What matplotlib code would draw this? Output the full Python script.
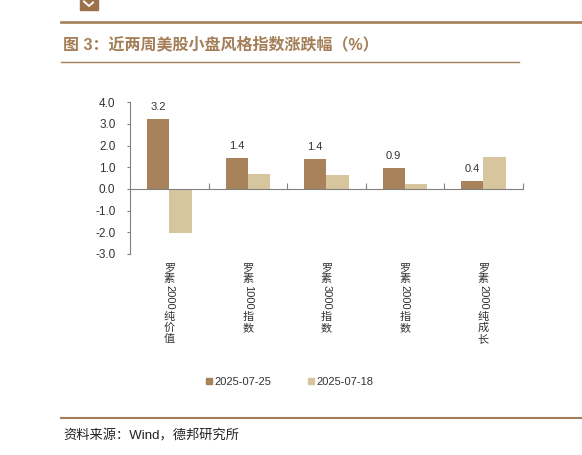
import matplotlib
matplotlib.use("Agg")
import matplotlib.pyplot as plt
from matplotlib.lines import Line2D
from matplotlib.patches import Rectangle, Patch
import numpy as np

plt.rcParams['font.family'] = ['Liberation Sans', 'Noto Sans CJK SC', 'DejaVu Sans']
plt.rcParams['axes.unicode_minus'] = False

categories = ["罗素2000纯价值", "罗素1000指数", "罗素3000指数", "罗素2000指数", "罗素2000纯成长"]
series_names = ["2025-07-25", "2025-07-18"]
values_0725 = [3.21, 1.41, 1.38, 0.95, 0.38]
values_0718 = [-2.01, 0.69, 0.65, 0.23, 1.47]
value_labels = ["3.2", "1.4", "1.4", "0.9", "0.4"]
yticks = [-3.0, -2.0, -1.0, 0.0, 1.0, 2.0, 3.0, 4.0]

C1 = "#A8825A"
C2 = "#D6C59D"
BROWN = "#A47E57"
TXT = "#333333"

W, H = 582, 455
fig = plt.figure(figsize=(W / 100, H / 100), dpi=100)

def fx(x):
    return x / W

def fy(y):
    return 1 - y / H

ax = fig.add_axes([fx(130), fy(254), fx(522.7) - fx(130), fy(102.3) - fy(254)])

n = len(categories)
x = np.arange(n) + 0.5
bw = 0.284
ax.bar(x - bw / 2, values_0725, width=bw, color=C1, label=series_names[0], zorder=2)
ax.bar(x + bw / 2, values_0718, width=bw, color=C2, label=series_names[1], zorder=2)

for xi, v, lab in zip(x, values_0725, value_labels):
    ax.annotate(lab, xy=(xi - bw / 2, v), xytext=(0, 5), textcoords='offset points',
                ha='center', va='bottom', fontsize=8, color=TXT)

ax.set_xlim(0, n)
ax.set_ylim(-3, 4)
ax.set_yticks(yticks)
ax.set_yticklabels([f"{t:.1f}" for t in yticks])
ax.tick_params(axis='y', direction='out', length=2, width=0.8, color='#808080',
               labelsize=8.5, labelcolor=TXT, pad=8.5)
ax.set_xticks(np.arange(1, n + 1))
ax.set_xticklabels([])
ax.tick_params(axis='x', direction='in', length=4, width=0.8, color='#808080')

for s in ['top', 'right']:
    ax.spines[s].set_visible(False)
ax.spines['left'].set_color('#808080')
ax.spines['left'].set_linewidth(0.8)
ax.spines['bottom'].set_position(('data', 0))
ax.spines['bottom'].set_color('#808080')
ax.spines['bottom'].set_linewidth(0.8)
ax.spines['bottom'].set_zorder(3)

# vertical category labels: CJK upright, digits rotated
px2pt = 72 / 100
cjk_adv = 11.2
fs = 8
em = fs / 72 * 100
xt = ax.get_xaxis_transform()
for xi, lab in zip(x, categories):
    cursor = 9.0  # px below axes bottom
    i = 0
    while i < len(lab):
        ch = lab[i]
        if ch.isdigit():
            j = i
            while j < len(lab) and lab[j].isdigit():
                j += 1
            run = lab[i:j]
            ax.annotate(run, xy=(xi, 0), xycoords=xt, xytext=(0, -cursor * px2pt),
                        textcoords='offset points', rotation=-90, ha='center', va='top',
                        fontsize=fs, color=TXT, annotation_clip=False)
            cursor += len(run) * 0.556 * em + 1.5
            i = j
        else:
            ax.annotate(ch, xy=(xi, 0), xycoords=xt, xytext=(0, -cursor * px2pt),
                        textcoords='offset points', ha='center', va='top',
                        fontsize=fs, color=TXT, annotation_clip=False)
            cursor += cjk_adv
            i += 1

# legend
handles = [Patch(color=C1, label=series_names[0]), Patch(color=C2, label=series_names[1])]
fig.legend(handles=handles, loc='center', bbox_to_anchor=(fx(290), fy(381.7)), ncol=2,
           frameon=False, fontsize=8, handlelength=0.5, handleheight=0.5,
           handletextpad=0.25, columnspacing=3.3, labelcolor=TXT)

# decorative lines
fig.add_artist(Line2D([fx(61), fx(582)], [fy(21.5), fy(21.5)], color=BROWN, lw=1.9))
fig.add_artist(Line2D([fx(61), fx(519)], [fy(61.7), fy(61.7)], color=BROWN, lw=1.0))
fig.add_artist(Line2D([fx(61), fx(582)], [fy(417.7), fy(417.7)], color=BROWN, lw=1.5))

# logo fragment
fig.add_artist(Rectangle((fx(80), fy(9.5)), fx(98) - fx(80), fy(0) - fy(9.5), color="#9C7048",
                         transform=fig.transFigure))
fig.add_artist(Line2D([fx(84), fx(89), fx(93)], [fy(1.5), fy(6), fy(2.5)],
                      color='white', lw=1.4))

fig.text(fx(63), fy(44), "图 3：近两周美股小盘风格指数涨跌幅（%）", fontsize=11.5, color=BROWN,
         fontweight='bold', ha='left', va='center')
fig.text(fx(63), fy(436), "资料来源：Wind，德邦研究所", fontsize=9.5, color='#222222',
         ha='left', va='center')

fig.savefig("out.png", dpi=100)
